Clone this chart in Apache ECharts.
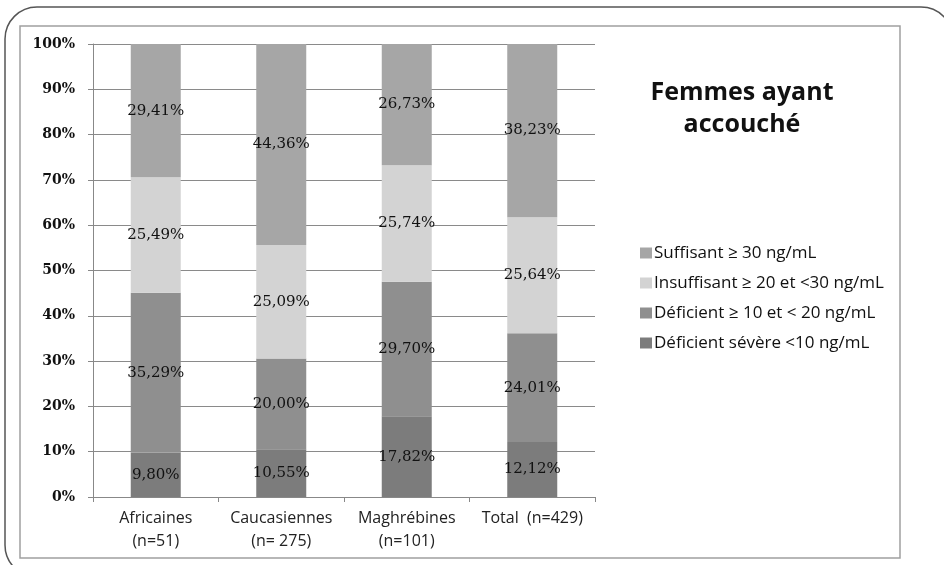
<!DOCTYPE html>
<html>
<head>
<meta charset="utf-8">
<script src="https://cdn.jsdelivr.net/npm/echarts@6/dist/echarts.min.js"></script>
<style>
  html, body { margin: 0; padding: 0; background: #ffffff; }
  #chart { width: 944px; height: 565px; }
</style>
</head>
<body>
<div id="chart"></div>
<script>
// Vitamin D status of women who gave birth, by origin (percent of each group)
const categories = ['Africaines\n(n=51)', 'Caucasiennes\n(n= 275)', 'Maghrébines\n(n=101)', 'Total  (n=429)'];
const severe = [9.80, 10.55, 17.82, 12.12];       // Déficient sévère <10 ng/mL
const deficient = [35.29, 20.00, 29.70, 24.01];   // Déficient ≥ 10 et < 20 ng/mL
const insufficient = [25.49, 25.09, 25.74, 25.64];// Insuffisant ≥ 20 et <30 ng/mL
const sufficient = [29.41, 44.36, 26.73, 38.23];  // Suffisant ≥ 30 ng/mL
const yTicks = [0, 10, 20, 30, 40, 50, 60, 70, 80, 90, 100];

const seriesNames = [
  'Déficient sévère <10 ng/mL',
  'Déficient ≥ 10 et < 20 ng/mL',
  'Insuffisant ≥ 20 et <30 ng/mL',
  'Suffisant ≥ 30 ng/mL'
];
const seriesData = [severe, deficient, insufficient, sufficient];
const seriesColors = ['#7c7c7c', '#8f8f8f', '#d3d3d3', '#a6a6a6'];

const fmt = v => v.toFixed(2).replace('.', ',') + '%';

const chart = echarts.init(document.getElementById('chart'), null, { renderer: 'canvas' });

const series = seriesNames.map((name, i) => ({
  name: name,
  type: 'bar',
  stack: 'total',
  barWidth: 50,
  data: seriesData[i],
  itemStyle: { color: seriesColors[i] },
  label: {
    show: true,
    position: 'inside',
    formatter: p => fmt(p.value),
    fontFamily: 'DejaVu Serif',
    fontSize: 15,
    color: '#111111'
  },
  emphasis: { disabled: true }
}));

chart.setOption({
  animation: false,
  backgroundColor: '#ffffff',
  title: {
    text: 'Femmes ayant\naccouché',
    left: 737,
    top: 72,
    textAlign: 'center',
    textStyle: {
      fontFamily: 'Open Sans',
      fontWeight: 'bold',
      fontSize: 25,
      lineHeight: 32,
      color: '#111111'
    }
  },
  legend: {
    orient: 'vertical',
    left: 635,
    top: 237,
    itemWidth: 12,
    itemHeight: 11,
    itemGap: 8,
    icon: 'rect',
    data: [seriesNames[3], seriesNames[2], seriesNames[1], seriesNames[0]],
    textStyle: {
      fontFamily: 'Open Sans',
      fontSize: 17,
      lineHeight: 22,
      color: '#111111',
      padding: [0, 0, 0, -3]
    }
  },
  grid: { left: 93, right: 349, top: 44, bottom: 68, containLabel: false },
  xAxis: {
    type: 'category',
    data: categories,
    axisLine: { lineStyle: { color: '#888888', width: 1 } },
    axisTick: { show: true, length: 5, lineStyle: { color: '#888888' } },
    axisLabel: {
      interval: 0,
      hideOverlap: false,
      fontFamily: 'Open Sans',
      fontSize: 16,
      lineHeight: 23,
      color: '#222222',
      margin: 10
    }
  },
  yAxis: {
    type: 'value',
    min: yTicks[0],
    max: yTicks[yTicks.length - 1],
    interval: 10,
    axisLine: { show: true, lineStyle: { color: '#888888' } },
    axisTick: { show: true, length: 5, lineStyle: { color: '#888888' } },
    splitLine: { show: true, lineStyle: { color: '#8a8a8a', width: 1 } },
    axisLabel: {
      formatter: v => v + '%',
      fontFamily: 'DejaVu Serif',
      fontWeight: 'bold',
      fontSize: 14,
      color: '#111111',
      margin: 18
    }
  },
  graphic: [
    {
      type: 'rect',
      z: -1,
      shape: { x: 5, y: 7, width: 948, height: 570, r: 32 },
      style: { fill: 'none', stroke: '#555555', lineWidth: 1.5 }
    },
    {
      type: 'rect',
      z: -1,
      shape: { x: 20, y: 26, width: 880, height: 532 },
      style: { fill: 'none', stroke: '#a0a0a0', lineWidth: 1.5 }
    }
  ],
  series: series
});
</script>
</body>
</html>
